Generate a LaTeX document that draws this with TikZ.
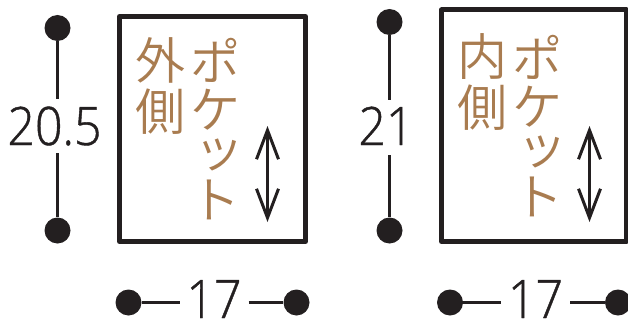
\documentclass[tikz,border=0pt]{standalone}
\usepackage{fontspec}
\usetikzlibrary{arrows.meta}
\newfontfamily\numfont[UprightFont=* Light,UprightFeatures={FakeBold=0.8,FakeStretch=0.91}]{Open Sans}
\newfontfamily\cjk{Noto Sans CJK JP DemiLight}
\definecolor{ink}{HTML}{231F20}
\definecolor{tan}{HTML}{A97C50}
\tikzset{
 x=1pt,y=-1pt,
 dot/.style={circle,fill=ink,inner sep=0pt,minimum size=26pt},
 conn/.style={draw=ink,line width=3pt},
 box/.style={draw=ink,line width=5pt,line join=round},
 num/.style={text=ink,inner sep=0pt,anchor=base,font=\numfont\fontsize{53}{53}\selectfont},
 kana/.style={text=tan,inner sep=0pt,font=\cjk\fontsize{50}{50}\selectfont},
 updown/.style={draw=ink,line width=3pt,{Straight Barb[length=29pt,width=22pt,line width=3pt]}-{Straight Barb[length=29pt,width=22pt,line width=3pt]}}
}
\begin{document}
\begin{tikzpicture}
\useasboundingbox (0,0) rectangle (628,321);
\clip (0,0) rectangle (628,321);
% left pocket
\node[dot] (lt) at (57.5,28) {};
\node[dot] (lb) at (57.5,230.5) {};
\coordinate (lt1) at (57.5,99);
\coordinate (lb1) at (57.5,153);
\draw[conn] (lt) -- (lt1);
\draw[conn] (lb1) -- (lb);
\node[num] (lh) at (54.5,145) {20.5};
\draw[box] (119.5,16.5) rectangle (305.5,241.5);
\node[kana] (lo1) at (160,60) {外};
\node[kana] (lo2) at (160,111.5) {側};
\node[kana] (lp1) at (215,60) {ポ};
\node[kana] (lp2) at (215,110) {ケ};
\node[kana] (lp3) at (219.5,155) {ッ};
\node[kana] (lp4) at (215,200) {ト};
\coordinate (la1) at (267.5,126);
\coordinate (la2) at (267.5,222);
\draw[updown] (la1) -- (la2);
\node[dot] (ll) at (128.5,302.5) {};
\node[dot] (lr) at (296.5,302.5) {};
\coordinate (ll1) at (179.5,302.5);
\coordinate (lr1) at (248.5,302.5);
\draw[conn] (ll) -- (ll1);
\draw[conn] (lr1) -- (lr);
\node[num] (lw) at (214,318) {17};
% right pocket
\node[dot] (rt) at (389.5,22) {};
\node[dot] (rb) at (389.5,230.5) {};
\coordinate (rt1) at (389.5,100);
\coordinate (rb1) at (389.5,155);
\draw[conn] (rt) -- (rt1);
\draw[conn] (rb1) -- (rb);
\node[num] (rh) at (386,145) {21};
\draw[box] (441.5,10) rectangle (626.5,241.5);
\node[kana] (ri1) at (482,57) {内};
\node[kana] (ri2) at (482,108) {側};
\node[kana] (rp1) at (537,57) {ポ};
\node[kana] (rp2) at (537,107) {ケ};
\node[kana] (rp3) at (542.5,152) {ッ};
\node[kana] (rp4) at (538,197) {ト};
\coordinate (ra1) at (589.5,126);
\coordinate (ra2) at (589.5,222);
\draw[updown] (ra1) -- (ra2);
\node[dot] (rl) at (450,302.5) {};
\node[dot] (rr) at (618,302.5) {};
\coordinate (rl1) at (501,302.5);
\coordinate (rr1) at (570,302.5);
\draw[conn] (rl) -- (rl1);
\draw[conn] (rr1) -- (rr);
\node[num] (rw) at (535.5,318) {17};
\end{tikzpicture}
\end{document}
